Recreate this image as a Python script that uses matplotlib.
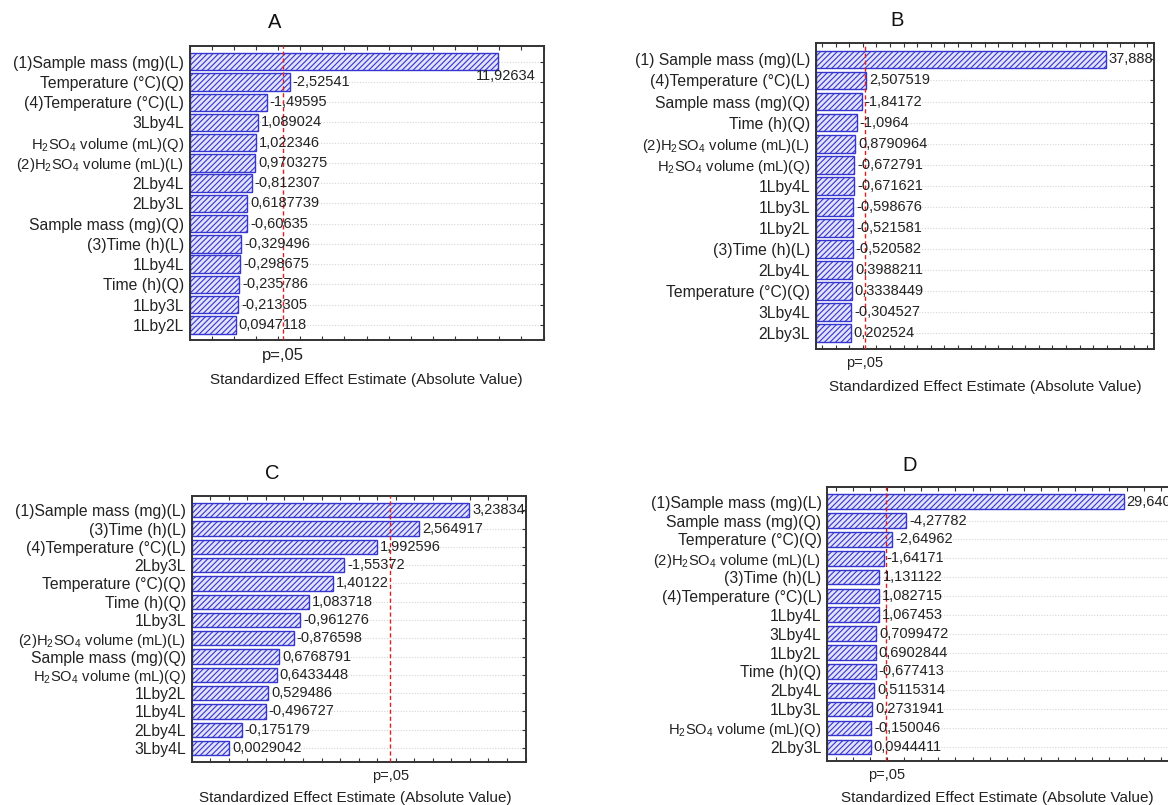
import matplotlib
matplotlib.use("Agg")
import matplotlib.pyplot as plt
from matplotlib.ticker import FixedLocator, MultipleLocator

plt.rcParams["font.family"] = ["Liberation Sans", "DejaVu Sans"]
plt.rcParams["mathtext.fontset"] = "custom"
plt.rcParams["mathtext.rm"] = "Liberation Sans"
plt.rcParams["hatch.linewidth"] = 0.8

W, H = 1168, 805

# Pareto charts of standardized effects, four responses (A-D)
a_terms = ["(1)Sample mass (mg)(L)", "Temperature (°C)(Q)", "(4)Temperature (°C)(L)", "3Lby4L",
           "H$_2$SO$_4$ volume (mL)(Q)", "(2)H$_2$SO$_4$ volume (mL)(L)", "2Lby4L", "2Lby3L",
           "Sample mass (mg)(Q)", "(3)Time (h)(L)", "1Lby4L", "Time (h)(Q)", "1Lby3L", "1Lby2L"]
a_effects = ["11,92634", "-2,52541", "-1,49595", "1,089024", "1,022346", "0,9703275", "-0,812307",
             "0,6187739", "-0,60635", "-0,329496", "-0,298675", "-0,235786", "-0,213305", "0,0947118"]

b_terms = ["(1) Sample mass (mg)(L)", "(4)Temperature (°C)(L)", "Sample mass (mg)(Q)", "Time (h)(Q)",
           "(2)H$_2$SO$_4$ volume (mL)(L)", "H$_2$SO$_4$ volume (mL)(Q)", "1Lby4L", "1Lby3L", "1Lby2L",
           "(3)Time (h)(L)", "2Lby4L", "Temperature (°C)(Q)", "3Lby4L", "2Lby3L"]
b_effects = ["37,888", "2,507519", "-1,84172", "-1,0964", "0,8790964", "-0,672791", "-0,671621",
             "-0,598676", "-0,521581", "-0,520582", "0,3988211", "0,3338449", "-0,304527", "0,202524"]

c_terms = ["(1)Sample mass (mg)(L)", "(3)Time (h)(L)", "(4)Temperature (°C)(L)", "2Lby3L",
           "Temperature (°C)(Q)", "Time (h)(Q)", "1Lby3L", "(2)H$_2$SO$_4$ volume (mL)(L)",
           "Sample mass (mg)(Q)", "H$_2$SO$_4$ volume (mL)(Q)", "1Lby2L", "1Lby4L", "2Lby4L", "3Lby4L"]
c_effects = ["3,238348", "2,564917", "1,992596", "-1,55372", "1,40122", "1,083718", "-0,961276",
             "-0,876598", "0,6768791", "0,6433448", "0,529486", "-0,496727", "-0,175179", "0,0029042"]

d_terms = ["(1)Sample mass (mg)(L)", "Sample mass (mg)(Q)", "Temperature (°C)(Q)",
           "(2)H$_2$SO$_4$ volume (mL)(L)", "(3)Time (h)(L)", "(4)Temperature (°C)(L)", "1Lby4L",
           "3Lby4L", "1Lby2L", "Time (h)(Q)", "2Lby4L", "1Lby3L", "H$_2$SO$_4$ volume (mL)(Q)", "2Lby3L"]
d_effects = ["29,640", "-4,27782", "-2,64962", "-1,64171", "1,131122", "1,082715", "1,067453",
             "0,7099472", "0,6902844", "-0,677413", "0,5115314", "0,2731941", "-0,150046", "0,0944411"]

# critical t at p = .05 for each model
p_crit = {"A": 2.22, "B": 2.3, "C": 2.18, "D": 1.95}

# panel layout in pixels: axes box (left, top, right, bottom), x range, minor tick step
panels = [
    dict(name="A", terms=a_terms, effects=a_effects, box=(189.5, 46, 543.5, 340), xlim=(-2, 14),
         step=1, title=(275, 23), xlabel=(366, 380), plabel=(12, 6), bar_h=0.86, label_below=True),
    dict(name="B", terms=b_terms, effects=b_effects, box=(815.5, 43, 1154, 349), xlim=(-5, 45),
         step=2, title=(897, 20), xlabel=(985, 387), plabel=(10.5, 5), bar_h=0.84, label_below=False),
    dict(name="C", terms=c_terms, effects=c_effects, box=(191.7, 496, 525.5, 761.7), xlim=(-0.5, 4.0),
         step=0.25, title=(272, 473), xlabel=(355, 798), plabel=(10.5, 5), bar_h=0.78, label_below=False),
    dict(name="D", terms=d_terms, effects=d_effects, box=(827, 487, 1255, 761), xlim=(-5, 45),
         step=2, title=(910, 465), xlabel=(997, 798), plabel=(10.5, 5), bar_h=0.78, label_below=False),
]

BAR_EDGE = "#3535d0"


def to_float(s):
    return float(s.replace(",", "."))


def draw_panel(fig, panel):
    x0, y0, x1, y1 = panel["box"]
    ax = fig.add_axes([x0 / W, 1 - y1 / H, (x1 - x0) / W, (y1 - y0) / H])
    values = [to_float(s) for s in panel["effects"]]
    ypos = list(range(len(values)))
    xmin, xmax = panel["xlim"]

    # bars run from the left edge of the scale to |effect|
    ax.barh(ypos, [abs(v) - xmin for v in values], height=panel["bar_h"], left=xmin,
            facecolor="#e2e2f8", edgecolor=BAR_EDGE, hatch="//////", linewidth=1.0, zorder=2)

    ax.set_xlim(xmin, xmax)
    ax.set_ylim(len(values) - 0.25, -0.78)

    p = p_crit[panel["name"]]
    ax.axvline(p, color="#e02020", linestyle=(0, (3, 2)), linewidth=1.0, zorder=3)

    # value labels at bar ends
    for i, (v, s) in enumerate(zip(values, panel["effects"])):
        if i == 0 and panel["label_below"]:
            ax.annotate(s, xy=(1, i + 0.72), xycoords=("axes fraction", "data"),
                        xytext=(-8, 0), textcoords="offset pixels",
                        ha="right", va="center", fontsize=10.5, color="#222222")
        else:
            ax.annotate(s, xy=(abs(v), i), xytext=(3, 0), textcoords="offset pixels",
                        ha="left", va="center", fontsize=10.5, color="#222222",
                        clip_on=True, zorder=4)

    ax.set_yticks(ypos)
    ax.set_yticklabels(panel["terms"])
    for lab in ax.get_yticklabels():
        lab.set_fontsize(10.6 if "SO" in lab.get_text() else 11.3)
        lab.set_color("#222222")
    ax.tick_params(axis="y", left=False, right=True, direction="in", length=3,
                   width=0.8, pad=4, color="#333333")

    fs, pad = panel["plabel"]
    ax.xaxis.set_major_locator(FixedLocator([p]))
    ax.set_xticklabels(["p=,05"])
    ax.xaxis.set_minor_locator(MultipleLocator(panel["step"]))
    ax.tick_params(axis="x", which="major", length=0, pad=pad, labelsize=fs, labelcolor="#222222")
    ax.tick_params(axis="x", which="minor", direction="in", length=3, width=0.8,
                   top=True, bottom=True, color="#333333")

    ax.grid(axis="y", color="#d6d6d6", linestyle=(0, (1, 1.5)), linewidth=0.8)
    ax.set_axisbelow(True)
    for spine in ax.spines.values():
        spine.set_color("#333333")
        spine.set_linewidth(1.4)

    tx, ty = panel["title"]
    fig.text(tx / W, 1 - ty / H, panel["name"], ha="center", va="center", fontsize=14.5, color="#111111")
    lx, ly = panel["xlabel"]
    fig.text(lx / W, 1 - ly / H, "Standardized Effect Estimate (Absolute Value)",
             ha="center", va="center", fontsize=11, color="#222222")


def main():
    fig = plt.figure(figsize=(W / 100, H / 100), dpi=100)
    fig.patch.set_facecolor("white")
    for panel in panels:
        draw_panel(fig, panel)
    fig.savefig("out.png", dpi=100, facecolor="white")
    plt.close(fig)


if __name__ == "__main__":
    main()
